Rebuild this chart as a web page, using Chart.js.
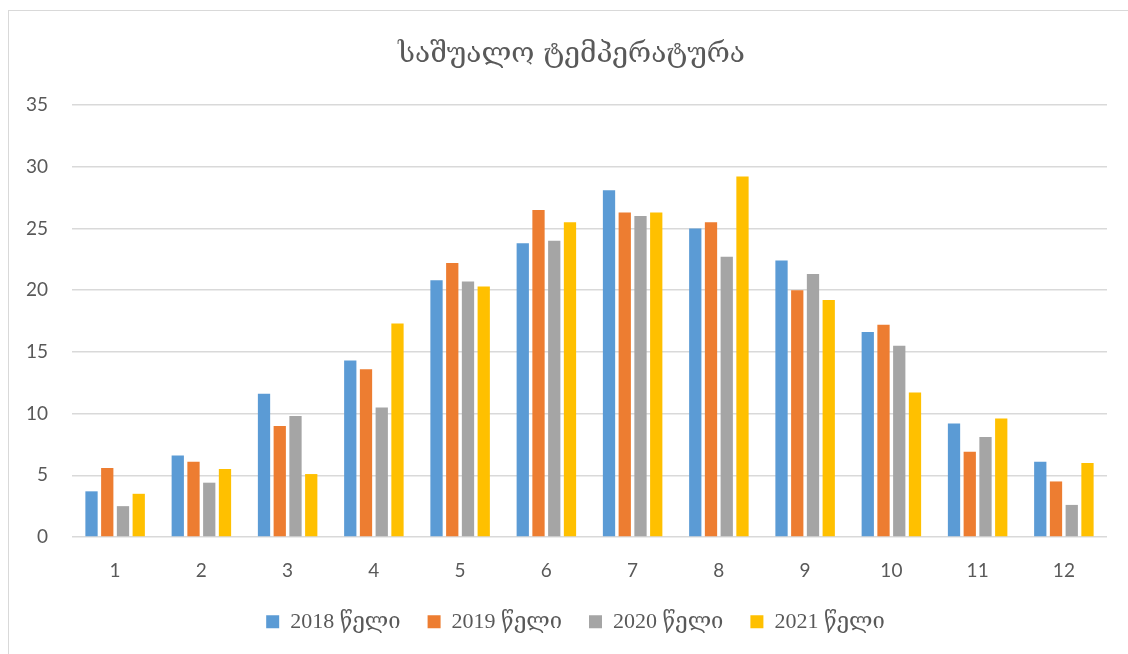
<!DOCTYPE html>
<html>
<head>
<meta charset="utf-8">
<script src="https://cdn.jsdelivr.net/npm/chart.js@4"></script>
<style>
html,body{margin:0;padding:0;background:#fff;width:1128px;height:654px;overflow:hidden;}
#frame{position:absolute;left:8px;top:10px;width:1140px;height:660px;border-left:1px solid #d9d9d9;border-top:1px solid #d9d9d9;}
#wrap{position:absolute;left:0;top:0;width:1128px;height:654px;}
</style>
</head>
<body>
<div id="frame"></div>
<div id="wrap"><canvas id="c" width="1128" height="654"></canvas></div>
<script>
const titleText = "საშუალო ტემპერატურა";
const months = ["1","2","3","4","5","6","7","8","9","10","11","12"];
const seriesNames = ["2018 წელი","2019 წელი","2020 წელი","2021 წელი"];
const y2018 = [3.7, 6.6, 11.6, 14.3, 20.8, 23.8, 28.1, 25.0, 22.4, 16.6, 9.2, 6.1];
const y2019 = [5.6, 6.1, 9.0, 13.6, 22.2, 26.5, 26.3, 25.5, 20.0, 17.2, 6.9, 4.5];
const y2020 = [2.5, 4.4, 9.8, 10.5, 20.7, 24.0, 26.0, 22.7, 21.3, 15.5, 8.1, 2.6];
const y2021 = [3.5, 5.5, 5.1, 17.3, 20.3, 25.5, 26.3, 29.2, 19.2, 11.7, 9.6, 6.0];
const yTicks = [0, 5, 10, 15, 20, 25, 30, 35];
const colors = ["#5B9BD5", "#ED7D31", "#A5A5A5", "#FFC000"];

const allSeries = [y2018, y2019, y2020, y2021];
const datasets = allSeries.map((d, i) => ({
  label: seriesNames[i],
  data: d,
  backgroundColor: colors[i],
  borderWidth: 0,
  categoryPercentage: 0.73,
  barPercentage: 0.78
}));

const shiftPlugin = {
  id: 'shiftBoxes',
  afterLayout(chart) {
    const lg = chart.legend;
    if (lg) { lg.top -= 20; lg.bottom -= 20; lg.left += 17; lg.right += 17; }
    const tb = chart.titleBlock;
    if (tb) { tb.left += 13; tb.right += 13; }
  }
};

new Chart(document.getElementById('c'), {
  type: 'bar',
  data: { labels: months, datasets },
  plugins: [shiftPlugin],
  options: {
    responsive: false,
    animation: false,
    devicePixelRatio: 1,
    layout: { padding: { left: 10, right: 21, top: 38, bottom: -8.8 } },
    plugins: {
      title: {
        display: true,
        text: titleText,
        color: '#595959',
        font: { family: "'DejaVu Serif', 'DejaVu Sans', serif", size: 28, weight: 'normal' },
        padding: { top: 0, bottom: 33.4 }
      },
      legend: {
        position: 'bottom',
        labels: {
          boxWidth: 13, boxHeight: 13,
          color: '#595959',
          padding: 27,
          font: { family: "'Liberation Serif', 'DejaVu Serif', serif", size: 22 }
        }
      },
      tooltip: { enabled: false }
    },
    scales: {
      x: {
        grid: { display: false, drawTicks: false },
        border: { display: false },
        ticks: { color: '#595959', padding: 22, font: { family: "Lato, 'Open Sans', sans-serif", size: 19 } }
      },
      y: {
        min: 0, max: 35,
        afterBuildTicks: ax => { ax.ticks = yTicks.map(v => ({ value: v })); },
        afterFit: ax => { ax.width = 62; },
        grid: { color: '#d9d9d9', lineWidth: 1.5, drawTicks: false },
        border: { display: false },
        ticks: { color: '#595959', padding: 24, font: { family: "Lato, 'Open Sans', sans-serif", size: 19 } }
      }
    }
  }
});
</script>
</body>
</html>
